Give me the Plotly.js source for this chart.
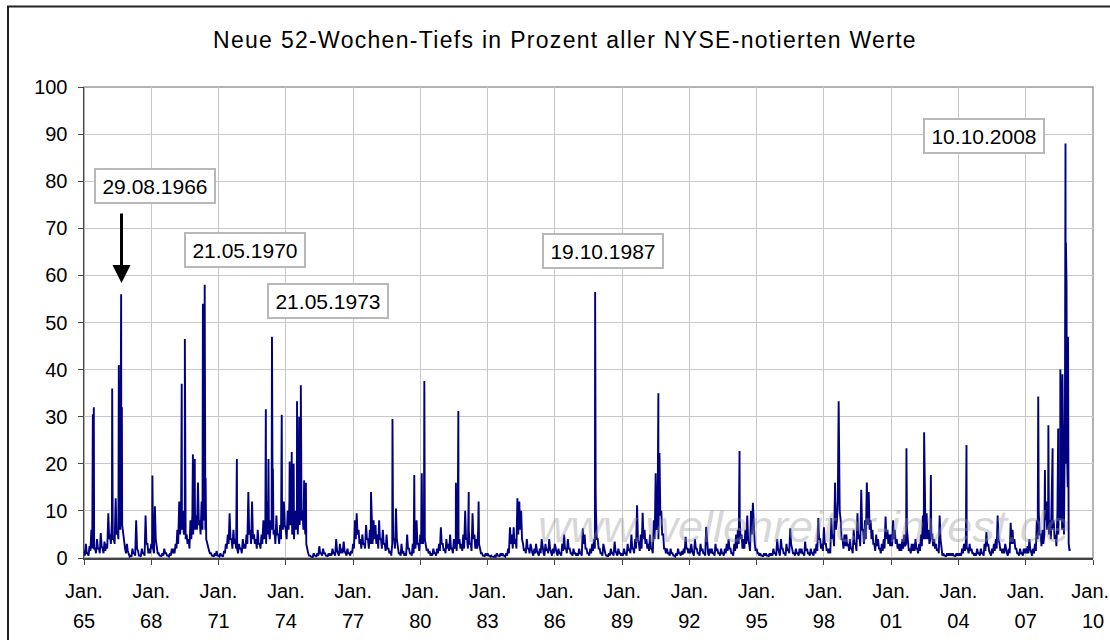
<!DOCTYPE html>
<html><head><meta charset="utf-8">
<script src="https://cdn.plot.ly/plotly-3.0.1.min.js"></script>
<style>
html,body{margin:0;padding:0;background:#fff}
#chart{width:1110px;height:640px}
.gtitle{letter-spacing:1.3px}
</style>
</head><body><div id="chart"></div>
<script>
// Monthly levels on the 1st of each month (Jan..Dec per year), percent of NYSE issues at new 52-week lows
const base1965 = [
  1.5,3,1,2.5,6,3,2,4,2,5.3,2,3.5,
  3,9.5,5,8,4,12.7,6,10,12,5,2,3,
  1,0.5,2,1,8,1.5,0.5,2,1,9,3,2,
  3,2,11,2,1,0.5,1,2,1,0.5,1,2,
  2,3,6,12,8,10,6,5,4,8,9,12
];
const base1970 = [
  9,16,8,12,10,6,3,1.5,1,0.5,1,1.5,
  0.5,1,0.5,1.5,3,5,9.5,4,6,4,2,3,
  2,4,3,5,14,6,12,5,4,6,3,5,
  8,5,12,6,8,10,6,9,5,7,10,12,
  6,10,12,8,6,10,8,12,15,10,8,3,
  1,0.5,0.3,1,0.5,1,2.5,1,2,1,0.5,1,
  1,2,1,4,1,3,2,3.5,1,2,1,1.5,
  3,8,9.5,6,4,5,3,7,4,6,5,8,
  7,5,8,4,6,3,5,2,1.5,3,4,10.5,
  2,1,3,1.5,1,5,2,1,3,4,8,3
];
const base1980 = [
  5,6,8,3,2,1.5,1,2,1,2,3,6.5,
  3,2,4,3,5,2,4,3,6,4,3,5,
  10,4,6,3,9.5,5,4,6,2,1,0.5,1,
  1,0.5,0.5,0.3,0.5,1,0.5,1,1,0.5,1,2,
  6.5,5,6.5,4,12.7,12,10,3,2,4,2,3,
  1,2,3,1,2,4,1,3,2,4,1,2,
  3,1,2,1,3,5,2,4,2,1,2,1,
  1,2,1,6.3,5,2,1,2,3,4,10,4,
  2,1,3,1,0.5,1,2,1,3.5,1,2,1,
  1,2,1,3,2,5,2,4,11.2,3,5,9.6
];
const base1990 = [
  6,4,3,5,2,8,18,7,22.3,10,5,2,
  2,1,2,1,0.5,1,2,1,1.5,2,4.5,2,
  2,3,1,4,2,1,3,2,1,6.6,1,2,
  2,1,3,2,1,2,1,2,3,4,2,1,
  3,5,6,8,5,4,6,9,3,10,11.7,3,
  2,1,1,0.5,1,1,0.5,1,1,2,1,4,
  1,4,2,1,3,2,6.3,2,1,2,1,2,
  2,1,3.5,2,1,2,1,2,3,8.5,4,3,
  6.5,3,2,2,8.5,5,16,8,26,8,4,5,
  5,3,4,2,6,3,9.5,5,14.5,6,8,16
];
const base2000 = [
  14,8,6,3,5,4,2,3,4,8.8,6,5,
  5,8,6,4,3,3,4,5,3,3,2,3,
  3,4,2,3,5,9,8,9.5,6,4,5,4,
  3,2,9,1,1,0.5,1,1,1,1,0.5,1,
  1,1,2,3,3.5,2,3,2,1,1,2,1,
  2,1,3,5.5,3,1,2,3,4,9,3,2,
  2,3,1,2,7.5,6,4,2,1,2,1,2,
  2,2.5,4,1,2,3,8,10,5,6,5,12,
  10,8,12,8,5,10,15,12,10,30,25,3
];
// Mid-month troughs (15th of each month)
const mid1965 = [
  0.5,1,0.5,1.5,2,2,1,2,1,2.5,1,1.5,
  2,4,3,4,3,5,4,6,7,3,1,1.5,
  0.3,0.3,1,0.5,2,0.5,0.3,1,0.5,3,1,1,
  2,1,4,1,0.5,0.3,0.5,1,0.5,0.3,0.5,1,
  1,2,3,5,6,5,4,3,2,4,5,6
];
const mid1970 = [
  6,7,5,6,8,4,2,1,0.5,0.3,0.5,0.5,
  0.3,0.5,0.3,1,2,3,4,2,3,2,1,2,
  1,2,2,3,5,3,4,3,2,3,2,3,
  4,3,5,4,6,5,3,5,3,4,6,7,
  4,6,7,5,4,6,5,7,8,6,5,1.5,
  0.5,0.3,0.2,0.5,0.3,0.5,1,0.5,1,0.5,0.3,0.5,
  0.5,1,0.5,1.5,0.5,1,1,1.5,0.5,1,0.5,1,
  2,4,5,3,2,3,2,4,2,3,3,4,
  3,2,4,2,3,1.5,2,1,0.5,4,2,4,
  1,0.5,1,0.5,0.5,2,1,0.5,1,2,3,1.5
];
const mid1980 = [
  3,3,4,1.5,1,0.5,0.5,1,0.5,1,1.5,3,
  1.5,1,2,1.5,2,1,2,1.5,3,2,1.5,2,
  4,2,3,1.5,4,2,2,3,1,0.5,0.3,0.5,
  0.5,0.3,0.3,0.2,0.3,0.5,0.3,0.5,0.5,0.3,0.5,1,
  3,2,3,2,5,6,4,1.5,1,2,1,1.5,
  0.5,1,1.5,0.5,1,2,0.5,1.5,1,2,0.5,1,
  1.5,0.5,1,0.5,1.5,2,1,2,1,0.5,1,0.5,
  0.5,1,0.5,3,2,1,0.5,1,1.5,2,4,2,
  1,0.5,1.5,0.5,0.3,0.5,1,0.5,1.5,0.5,1,0.5,
  0.5,1,0.5,1.5,1,2,1,2,4,1.5,2,4
];
const mid1990 = [
  3,2,1.5,2,1,4,6,4,9,5,2,1,
  1,0.5,1,0.5,0.3,0.5,1,0.5,0.7,1,2,1,
  1,1.5,0.5,2,1,0.5,1.5,1,0.5,3,0.5,1,
  1,0.5,1.5,1,0.5,1,0.5,1,1.5,2,1,0.5,
  1.5,2,3,4,2,2,3,4,1.5,5,5,1.5,
  1,0.5,0.5,0.3,0.5,0.5,0.3,0.5,0.5,1,0.5,2,
  0.5,2,1,0.5,1.5,1,3,1,0.5,1,0.5,1,
  1,0.5,1.5,1,0.5,1,0.5,1,1.5,4,2,1.5,
  3,1.5,1,1,4,2.5,6,12,10,4,2,2.5,
  2.5,1.5,2,1,3,1.5,4,2.5,6,3,4,7
];
const mid2000 = [
  6,4,3,1.5,2.5,2,1,1.5,2,4,3,2.5,
  2.5,4,3,2,1.5,1.5,2,2.5,6,1.5,1,1.5,
  1.5,2,1,1.5,2.5,4,4,4,3,5,2.5,2,
  1.5,1,4,0.5,0.5,0.3,0.5,0.5,0.5,0.5,0.3,0.5,
  0.5,0.5,1,1.5,2,1,1.5,1,0.5,0.5,1,0.5,
  1,0.5,1.5,2.5,1.5,0.5,1,1.5,2,4,1.5,1,
  1,1.5,0.5,1,3,3,2,1,0.5,1,0.5,1,
  1,1,2,0.5,1,1.5,4,5,2.5,3,8,6,
  5,4,6,4,2.5,5,8,6,5,20,15,1.5
];
// Individual daily peaks
const spikeDates = [
  '1965-05-25','1965-06-10','1966-04-05','1966-07-22','1966-08-29','1966-09-10',
  '1968-01-20','1969-05-12','1969-07-02','1969-11-10','1969-12-10',
  '1970-04-22','1970-05-21','1970-06-05','1971-10-27',
  '1973-02-10','1973-03-25','1973-05-21','1973-06-05','1973-10-27',
  '1974-03-05','1974-04-08','1974-05-10','1974-07-03','1974-08-08','1974-09-03','1974-10-27','1974-11-25',
  '1977-10-20','1978-10-05','1979-09-25','1980-01-25','1980-03-07',
  '1981-08-03','1981-09-12','1982-02-28','1982-08-08',
  '1987-10-19','1987-10-28','1990-08-14','1994-03-28','1998-08-29',
  '2001-09-06','2002-06-21','2002-10-09','2004-05-11',
  '2007-07-24','2007-11-10','2008-01-05','2008-03-14','2008-06-13','2008-07-18','2008-08-21',
  '2008-10-10','2008-10-17','2008-10-27','2008-11-20','2008-12-20'
];
const spikeValues = [
  30.5,32,36,41,56,32,
  17.5,37,46.5,22,21,
  54,58,17,21,
  31.6,21,47,19,30.4,
  20.5,22.5,20,33.3,30,36.7,16.5,16,
  14,29.5,17.6,18,37.6,
  16,31.2,14,12,
  56.5,14,35,22.7,33.3,
  23.3,26.7,17.6,24,
  34.3,18.7,28.2,23.3,27.5,40,39,
  88,67,58,47,2
];
const tickDates = ['1965-01-01','1968-01-01','1971-01-01','1974-01-01','1977-01-01','1980-01-01','1983-01-01','1986-01-01','1989-01-01','1992-01-01','1995-01-01','1998-01-01','2001-01-01','2004-01-01','2007-01-01','2010-01-01'];
const tickMonths = ['Jan.','Jan.','Jan.','Jan.','Jan.','Jan.','Jan.','Jan.','Jan.','Jan.','Jan.','Jan.','Jan.','Jan.','Jan.','Jan.&nbsp;'];
const tickYears = ['65','68','71','74','77','80','83','86','89','92','95','98','01','04','07','10'];
const yTicks = [0,10,20,30,40,50,60,70,80,90,100];

const pts = [];
const addMonthly = (startYear, arr, day) => arr.forEach((v, i) => {
  const yr = startYear + Math.floor(i / 12), m = (i % 12) + 1;
  pts.push([yr + '-' + String(m).padStart(2, '0') + '-' + day, v]);
});
[[1965, base1965, mid1965],[1970, base1970, mid1970],[1980, base1980, mid1980],[1990, base1990, mid1990],[2000, base2000, mid2000]]
  .forEach(([y0, b, m]) => { addMonthly(y0, b, '01'); addMonthly(y0, m, '15'); });
spikeDates.forEach((d, i) => pts.push([d, spikeValues[i]]));
pts.sort((a, b) => (a[0] < b[0] ? -1 : a[0] > b[0] ? 1 : 0));

const trace = {
  type: 'scatter', mode: 'lines',
  x: pts.map(p => p[0]), y: pts.map(p => p[1]),
  line: {color: '#000080', width: 1.9},
  hoverinfo: 'skip'
};
// carrier for the second (year) label row of the date axis; holds no values
const yearRow = {
  type: 'scatter', mode: 'lines', xaxis: 'x2', yaxis: 'y',
  x: tickDates, y: tickDates.map(() => null), hoverinfo: 'skip', showlegend: false
};

const W = 1009, H = 471, L = 84, T = 87;
const px = v => (v - L) / W;
const py = v => (T + H - v) / H;
const FONT = '"Liberation Sans", Arial, sans-serif';
const xr = ['1965-01-01', '2010-01-01'];

const boxLabels = [
  {text: '29.08.1966', cx: 154.5, cy: 186},
  {text: '21.05.1970', cx: 244.5, cy: 250},
  {text: '21.05.1973', cx: 328, cy: 301},
  {text: '19.10.1987', cx: 603, cy: 251},
  {text: '10.10.2008', cx: 984, cy: 136}
];
const annotations = boxLabels.map(b => ({
  text: b.text, xref: 'paper', yref: 'paper', x: px(b.cx), y: py(b.cy),
  xanchor: 'center', yanchor: 'middle', showarrow: false,
  font: {family: FONT, size: 21, color: '#000'},
  bgcolor: '#fff', bordercolor: '#b8b8b8', borderwidth: 2, borderpad: 3,
  width: 112, height: 26
}));
annotations.push({
  text: '', xref: 'paper', yref: 'paper', x: px(121.5), y: py(283),
  showarrow: true, ax: 0, ay: -71, arrowhead: 2, arrowsize: 1.2, arrowwidth: 3, arrowcolor: '#000', standoff: 0
});
annotations.push({
  text: '<i>www.wellenreiter-invest.de</i>', xref: 'paper', yref: 'paper', x: px(804), y: py(526),
  xanchor: 'center', yanchor: 'middle', showarrow: false,
  font: {family: FONT, size: 45, color: 'rgba(150,150,150,0.38)'}
});

const layout = {
  width: 1110, height: 640,
  margin: {l: L, r: 1110 - L - W, t: T, b: 640 - T - H, pad: 0},
  paper_bgcolor: '#fff', plot_bgcolor: '#fff',
  font: {family: FONT, color: '#000', size: 20},
  showlegend: false,
  title: {
    text: 'Neue 52-Wochen-Tiefs in Prozent aller NYSE-notierten Werte',
    font: {family: FONT, size: 23, color: '#000'},
    xref: 'container', x: 565 / 1110, xanchor: 'center',
    yref: 'container', y: 1 - 40 / 640, yanchor: 'middle'
  },
  xaxis: {
    type: 'date', range: xr, tickmode: 'array', tickvals: tickDates,
    ticktext: tickMonths,
    ticks: 'outside', ticklen: 5, tickwidth: 1, tickcolor: '#444',
    showgrid: true, gridcolor: '#c8c8c8', gridwidth: 1,
    showline: true, linecolor: '#444', linewidth: 1.5, zeroline: false,
    tickfont: {family: FONT, size: 20, color: '#000'},
    ticklabelstandoff: 9, ticklabeloverflow: 'allow', fixedrange: true
  },
  xaxis2: {
    type: 'date', range: xr, overlaying: 'x', anchor: 'y', side: 'bottom',
    tickmode: 'array', tickvals: tickDates, ticktext: tickYears,
    ticks: '', showgrid: false, showline: false, zeroline: false,
    tickfont: {family: FONT, size: 20, color: '#000'},
    ticklabelstandoff: 49, ticklabeloverflow: 'allow', fixedrange: true
  },
  yaxis: {
    range: [0, 100], tickmode: 'array', tickvals: yTicks,
    ticks: 'outside', ticklen: 5, tickwidth: 1, tickcolor: '#444',
    showgrid: true, gridcolor: '#c8c8c8', gridwidth: 1,
    showline: true, linecolor: '#444', linewidth: 1.5, zeroline: false,
    tickfont: {family: FONT, size: 20, color: '#000'},
    ticklabelstandoff: 6, fixedrange: true
  },
  shapes: [
    {type: 'rect', xref: 'paper', yref: 'paper', x0: 0, x1: 1, y0: 0, y1: 1,
     line: {color: '#999', width: 1.5}, layer: 'below'},
    {type: 'rect', xref: 'paper', yref: 'paper', x0: px(8), x1: px(1120), y0: py(6.5), y1: py(650),
     line: {color: '#222', width: 2}, layer: 'above'}
  ],
  annotations: annotations
};

Plotly.newPlot('chart', [yearRow, trace], layout, {displayModeBar: false, staticPlot: true});
</script>
</body></html>
